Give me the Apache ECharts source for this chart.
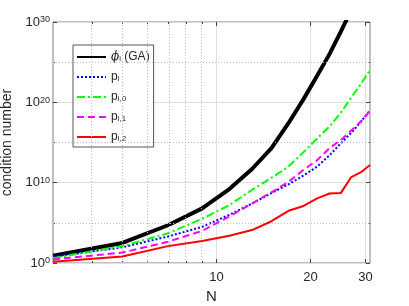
<!DOCTYPE html>
<html><head><meta charset="utf-8">
<script src="https://cdn.jsdelivr.net/npm/echarts@6/dist/echarts.min.js"></script>
<style>html,body{margin:0;padding:0;background:#fff}#c{width:409px;height:306px}</style>
</head><body><div id="c"></div>
<script>
// problem size N (odd values)
const N = [3,5,7,9,11,13,15,17,19,21,23,25,27,29,31];
// log10 of condition number
const log10PhiGA = [0.9,2.5,4.7,6.8,9.2,11.7,14.3,17.4,20.4,23.3,26.0,28.8,31.5];
const log10P     = [0.8,1.95,3.3,4.5,6.0,7.4,8.7,9.8,10.9,12.0,13.4,14.9,16.2,17.6,19.0];
const log10P0    = [0.6,2.1,3.7,5.5,7.2,9.1,10.6,12.0,13.8,15.5,17.0,18.7,20.6,22.3,24.0];
const log10P1    = [0.45,1.3,2.65,4.0,5.8,7.4,8.8,10.1,11.6,12.8,14.3,15.3,16.5,17.6,18.9];
const log10P2    = [0.15,0.8,2.1,2.75,3.4,4.1,5.2,6.5,7.1,8.05,8.65,8.7,10.7,11.3,12.2];

const xMajorTicks = [10,20,30];
const xMinorTicks = [4,5,6,7,8,9];
const xRange = [3,31];
const yExpTicks = [0,10,20,30];
const yMinorExp = [5,15,25];

const FONT = 'Liberation Sans, Arial, Helvetica, sans-serif';
const TXT = '#262626';
const lg = Math.log10;

function pts(vals){ return vals.map((v,i)=>[lg(N[i]), v]); }

const chart = echarts.init(document.getElementById('c'), null, {renderer:'canvas'});

const xBase = {
  type:'value', min: lg(xRange[0]), max: lg(xRange[1]),
  axisLine:{show:false}, axisLabel:{show:false},
  splitLine:{show:false}
};
const yBase = {
  type:'value', min: yExpTicks[0], max: yExpTicks[yExpTicks.length-1], interval: 10,
  axisLine:{show:false}, axisLabel:{show:false}, splitLine:{show:false}
};

const minorGrid = []
  .concat(xMinorTicks.map(v => ({xAxis: lg(v)})))
  .concat(yMinorExp.map(v => ({yAxis: v})));

const option = {
  animation:false,
  backgroundColor:'#fff',
  grid:{left:53, right:39, top:22, bottom:43, show:true, borderColor:'#808080', borderWidth:1, containLabel:false, outerBoundsMode:'none'},
  legend:{
    orient:'vertical', left:73, top:45,
    padding:[4,4,4,3], itemGap:6, itemWidth:29, itemHeight:14,
    backgroundColor:'#fff', borderColor:'#555', borderWidth:1,
    itemStyle:{opacity:0},
    data:['phiGA','p','p0','p1','p2'],
    formatter: function(name){
      const m = {
        phiGA:'{it|ϕ}{sub|i}{t| (GA)}',
        p:'{t|p}{sub|i}', p0:'{t|p}{sub|i,0}', p1:'{t|p}{sub|i,1}', p2:'{t|p}{sub|i,2}'
      };
      return m[name];
    },
    textStyle:{
      color:TXT, fontFamily:FONT, fontSize:12,
      rich:{
        t:{fontSize:12, lineHeight:12, verticalAlign:'top', fontFamily:FONT, color:TXT},
        it:{fontSize:12, lineHeight:12, verticalAlign:'top', fontStyle:'italic', fontFamily:'DejaVu Serif, serif', color:TXT},
        sub:{fontSize:8, lineHeight:8, verticalAlign:'bottom', padding:[6,0,0,0], fontFamily:FONT, color:TXT}
      }
    }
  },
  xAxis:[
    Object.assign({}, xBase, {
      position:'bottom',
      axisTick:{show:true, inside:true, length:4, customValues: xMajorTicks.map(lg), lineStyle:{color:'#404040'}},
      axisLabel:{show:true, customValues: xMajorTicks.map(lg), margin:8,
        formatter: v => String(Math.round(Math.pow(10,v))), color:TXT, fontFamily:FONT, fontSize:13},
      splitLine:{show:true, lineStyle:{color:'#e0e0e0', width:1}},
      name:'N', nameLocation:'middle', nameGap:25,
      nameTextStyle:{color:TXT, fontFamily:FONT, fontSize:15}
    }),
    Object.assign({}, xBase, {
      position:'bottom',
      axisTick:{show:true, inside:true, length:2, customValues: xMinorTicks.map(lg), lineStyle:{color:'#404040'}}
    }),
    Object.assign({}, xBase, {
      position:'top',
      axisTick:{show:true, inside:true, length:4, customValues: xMajorTicks.map(lg), lineStyle:{color:'#404040'}}
    }),
    Object.assign({}, xBase, {
      position:'top',
      axisTick:{show:true, inside:true, length:2, customValues: xMinorTicks.map(lg), lineStyle:{color:'#404040'}}
    })
  ],
  yAxis:[
    Object.assign({}, yBase, {
      position:'left',
      axisTick:{show:true, inside:true, length:4, lineStyle:{color:'#404040'}},
      minorTick:{show:true, splitNumber:2, length:2, lineStyle:{color:'#404040'}},
      splitLine:{show:true, lineStyle:{color:'#e0e0e0', width:1}},
      axisLabel:{show:true, margin:3,
        formatter: v => '{b|10}{s|' + v + '}',
        rich:{
          b:{fontSize:13, lineHeight:13, padding:[5,0,0,0], verticalAlign:'bottom', color:TXT, fontFamily:FONT},
          s:{fontSize:9, lineHeight:9, verticalAlign:'top', color:TXT, fontFamily:FONT}
        }
      },
      name:'condition number', nameLocation:'middle', nameGap:36,
      nameTextStyle:{color:TXT, fontFamily:FONT, fontSize:14}
    }),
    Object.assign({}, yBase, {
      position:'right',
      axisTick:{show:true, inside:true, length:4, lineStyle:{color:'#404040'}},
      minorTick:{show:true, splitNumber:2, length:2, lineStyle:{color:'#404040'}}
    })
  ],
  series:[
    {name:'minorGrid', type:'line', data:[], symbol:'none', silent:true, z:1,
      markLine:{silent:true, symbol:['none','none'], animation:false, label:{show:false},
        lineStyle:{color:'#bdbdbd', width:1, type:[1,2]}, emphasis:{disabled:true},
        data: minorGrid}},
    {name:'phiGA', type:'line', data:pts(log10PhiGA), symbol:'none', clip:true,
      lineStyle:{color:'#000000', width:4}, itemStyle:{color:'#000000'}, z:2},
    {name:'p', type:'line', data:pts(log10P), symbol:'none', clip:true,
      lineStyle:{color:'#0000ff', width:2, type:[2,2]}, itemStyle:{color:'#0000ff'}, z:3},
    {name:'p0', type:'line', data:pts(log10P0), symbol:'none', clip:true,
      lineStyle:{color:'#00ff00', width:2, type:[8,3,2,3]}, itemStyle:{color:'#00ff00'}, z:4},
    {name:'p1', type:'line', data:pts(log10P1), symbol:'none', clip:true,
      lineStyle:{color:'#ff00ff', width:2, type:[7,4]}, itemStyle:{color:'#ff00ff'}, z:5},
    {name:'p2', type:'line', data:pts(log10P2), symbol:'none', clip:true,
      lineStyle:{color:'#ff0000', width:2}, itemStyle:{color:'#ff0000'}, z:6}
  ]
};
chart.setOption(option);
</script></body></html>
